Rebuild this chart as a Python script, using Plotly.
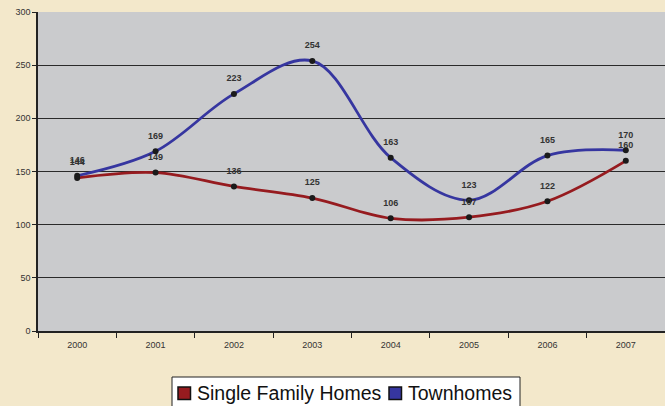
import plotly.graph_objects as go

years = ["2000", "2001", "2002", "2003", "2004", "2005", "2006", "2007"]
single_family = [144, 149, 136, 125, 106, 107, 122, 160]
townhomes = [146, 169, 223, 254, 163, 123, 165, 170]
series_names = ["Single Family Homes", "Townhomes"]

red = "#961B1F"
blue = "#3636A0"

# plot area in pixels: x 38..665, y 12..331
L, R, T, B = 38, 665, 12, 331
def px(x):
    return (x - L) / (R - L)
def py(y):
    return (B - y) / (B - T)

fig = go.Figure()
for name, vals, col in [(series_names[0], single_family, red), (series_names[1], townhomes, blue)]:
    fig.add_trace(go.Scatter(
        x=years, y=vals, mode="lines+markers", name=name, showlegend=False,
        line=dict(color=col, width=2.8, shape="spline", smoothing=1.0),
        marker=dict(color="#1a1a1a", size=6),
        cliponaxis=False,
    ))
for name, vals in [(series_names[0], single_family), (series_names[1], townhomes)]:
    fig.add_trace(go.Scatter(
        x=years, y=vals, mode="markers+text", showlegend=False, hoverinfo="skip",
        marker=dict(color="rgba(0,0,0,0)", size=15),
        text=[str(v) for v in vals], textposition="top center",
        textfont=dict(family="Liberation Sans, Arial", size=9, color="#333333", weight="bold"),
        cliponaxis=False,
    ))

# legend drawn in paper coordinates
fig.add_shape(type="rect", xref="paper", yref="paper",
              x0=px(172), x1=px(520), y0=py(412), y1=py(377),
              fillcolor="#FFFFFF", line=dict(color="#222222", width=1), layer="above")
for name, col, sx, tx in [(series_names[0], red, 178, 195), (series_names[1], blue, 389, 406)]:
    fig.add_shape(type="rect", xref="paper", yref="paper",
                  x0=px(sx), x1=px(sx + 12.5), y0=py(399.5), y1=py(387),
                  fillcolor=col, line=dict(color="#111111", width=1.5), layer="above")
    fig.add_annotation(xref="paper", yref="paper", x=px(tx), y=py(393),
                       xanchor="left", yanchor="middle", text=name, showarrow=False,
                       font=dict(family="Liberation Sans, Arial", size=19.5, color="#111111"))

fig.update_layout(
    width=665, height=406,
    margin=dict(l=L, r=0, t=T, b=406 - B, autoexpand=False),
    paper_bgcolor="#F3E8CB",
    plot_bgcolor="#CACBCD",
    font=dict(family="Liberation Sans, Arial", color="#333333"),
    showlegend=False,
    xaxis=dict(
        type="category", range=[-0.5, 7.5], tickson="boundaries",
        ticks="outside", ticklen=5, tickcolor="#222222", automargin=False,
        showline=True, linecolor="#222222", linewidth=1.5,
        showgrid=False, tickfont=dict(size=9, color="#333333"),
        ticklabelstandoff=4,
    ),
    yaxis=dict(
        range=[0, 300], dtick=50, ticks="outside", ticklen=4, tickcolor="#222222",
        showline=True, linecolor="#222222", linewidth=1.5, automargin=False,
        showgrid=True, gridcolor="#2a2a2a", gridwidth=1,
        tickfont=dict(size=9, color="#333333"), zeroline=False,
    ),
)

fig.write_html(
    "out.html",
    config={"displayModeBar": False},
    post_script="document.body.style.margin='0';document.body.style.padding='0';"
                "document.body.style.overflow='hidden';",
)
